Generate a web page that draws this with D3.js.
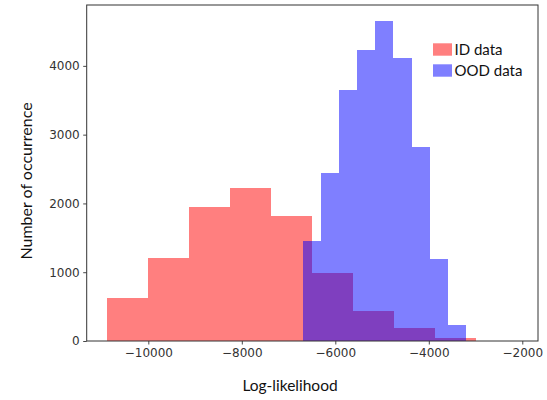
<!DOCTYPE html>
<html>
<head>
<meta charset="utf-8">
<script src="https://cdn.jsdelivr.net/npm/d3@7"></script>
<style>
  body { margin: 0; background: #fff; }
  svg { display: block; }
</style>
</head>
<body>
<svg id="chart" width="547" height="400"></svg>
<script>
// histogram bins
var idEdges = [-10879, -10001, -9124, -8246, -7368, -6491, -5613, -4736, -3858, -2981, -2103];
var idCounts = [624, 1204, 1944, 2220, 1824, 992, 435, 189, 50, 3];

var oodEdges = [-6697, -6309, -5921, -5533, -5145, -4757, -4369, -3981, -3593, -3205, -2817];
var oodCounts = [1447, 2443, 3647, 4228, 4653, 4112, 2825, 1190, 232, 3];

var xTicks = [-10000, -8000, -6000, -4000, -2000];
var yTicks = [0, 1000, 2000, 3000, 4000];
var seriesNames = ["ID data", "OOD data"];

var svg = d3.select("#chart");

// plot box (window.top is taken, so prefixed names)
var plotL = 86.7, plotR = 538, plotT = 5, plotB = 341;

var x = d3.scaleLinear().domain([-11318, -1664]).range([plotL, plotR]);
var y = d3.scaleLinear().domain([0, 4885]).range([plotB, plotT]);

function drawHist(edges, counts, color) {
    var bins = counts.map(function (c, i) {
        return { x0: edges[i], x1: edges[i + 1], n: c };
    });
    svg.append("g")
        .selectAll("rect")
        .data(bins)
        .enter()
        .append("rect")
        .attr("x", function (d) { return x(d.x0); })
        .attr("width", function (d) { return x(d.x1) - x(d.x0); })
        .attr("y", function (d) { return y(d.n); })
        .attr("height", function (d) { return y(0) - y(d.n); })
        .attr("fill", color)
        .attr("fill-opacity", 0.5)
        .attr("shape-rendering", "crispEdges");
}

drawHist(idEdges, idCounts, "#ff0000");
drawHist(oodEdges, oodCounts, "#0000ff");

// axes
var xAxis = d3.axisBottom(x).tickValues(xTicks).tickSize(3.5).tickPadding(3.5)
    .tickFormat(d3.format("d"));
var yAxis = d3.axisLeft(y).tickValues(yTicks).tickSize(3.5).tickPadding(3.5)
    .tickFormat(d3.format("d"));

var gx = svg.append("g").attr("transform", "translate(0," + plotB + ")").call(xAxis);
var gy = svg.append("g").attr("transform", "translate(" + plotL + ",0)").call(yAxis);

[gx, gy].forEach(function (g) {
    g.select(".domain").remove();
    g.selectAll(".tick line").attr("stroke", "#333").attr("stroke-width", 0.9);
    g.selectAll(".tick text")
        .attr("fill", "#333")
        .style("font-family", "DejaVu Sans")
        .style("font-size", "12px");
});

// frame
svg.append("rect")
    .attr("x", plotL).attr("y", plotT)
    .attr("width", plotR - plotL).attr("height", plotB - plotT)
    .attr("fill", "none").attr("stroke", "#333").attr("stroke-width", 1);

// labels
svg.append("text")
    .attr("x", 290).attr("y", 391)
    .attr("text-anchor", "middle")
    .style("font-family", "Lato")
    .style("font-size", "15.5px")
    .attr("fill", "#111")
    .text("Log-likelihood");

svg.append("text")
    .attr("transform", "translate(32,181) rotate(-90)")
    .attr("text-anchor", "middle")
    .style("font-family", "Lato")
    .style("font-size", "16px")
    .attr("fill", "#111")
    .text("Number of occurrence");

// legend
var legendColors = ["#ff0000", "#0000ff"];
var lg = svg.append("g");
seriesNames.forEach(function (name, i) {
    lg.append("rect")
        .attr("x", 433).attr("y", 43.3 + i * 21)
        .attr("width", 19).attr("height", 12.4)
        .attr("fill", legendColors[i]).attr("fill-opacity", 0.5);
    lg.append("text")
        .attr("x", 454.5).attr("y", 55 + i * 21)
        .style("font-family", "Lato")
        .style("font-size", "15px")
        .attr("fill", "#111")
        .text(name);
});
</script>
</body>
</html>
